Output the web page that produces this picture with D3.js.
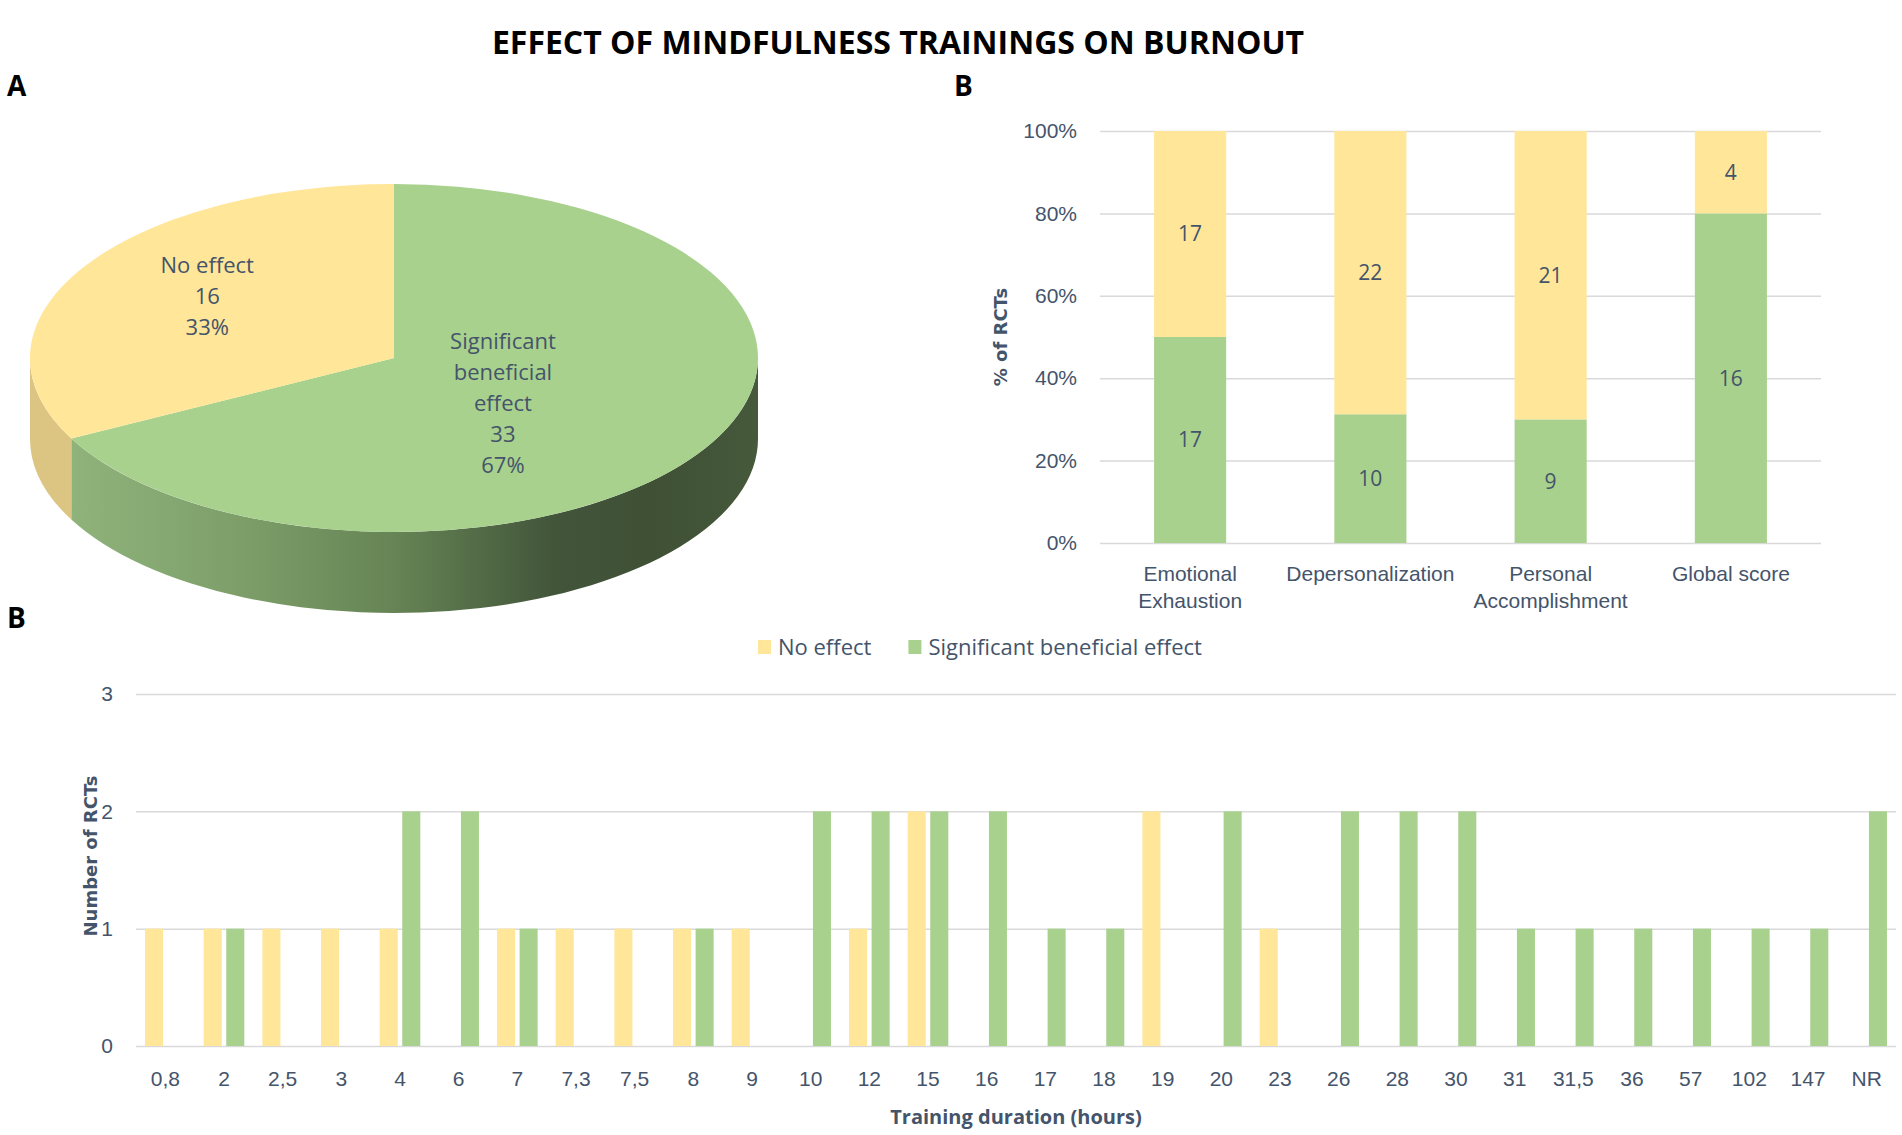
<!DOCTYPE html>
<html>
<head>
<meta charset="utf-8">
<script src="https://cdn.jsdelivr.net/npm/d3@7"></script>
<style>
  body { margin: 0; background: #fff; }
  svg { display: block; font-family: "Open Sans", sans-serif; }
  .tick text { fill: #44546a; font-size: 21px; }
  .axis-title { fill: #44546a; font-family: "DejaVu Sans", sans-serif; font-weight: bold; font-size: 18px; }
</style>
</head>
<body>
<svg id="chart"></svg>
<script>
// --- data ---
const pieLabels = ["No effect", "Significant beneficial effect"];
const pieCounts = [16, 33];

const dimLabels = [["Emotional", "Exhaustion"], ["Depersonalization"], ["Personal", "Accomplishment"], ["Global score"]];
const dimNoEffect = [17, 22, 21, 4];
const dimSignificant = [17, 10, 9, 16];

const durations = ["0,8", "2", "2,5", "3", "4", "6", "7", "7,3", "7,5", "8", "9", "10", "12", "15", "16",
  "17", "18", "19", "20", "23", "26", "28", "30", "31", "31,5", "36", "57", "102", "147", "NR"];
const durNoEffect    = [1, 1, 1, 1, 1, 0, 1, 1, 1, 1, 1, 0, 1, 2, 0, 0, 0, 2, 0, 1, 0, 0, 0, 0, 0, 0, 0, 0, 0, 0];
const durSignificant = [0, 1, 0, 0, 2, 2, 1, 0, 0, 1, 0, 2, 2, 2, 2, 1, 1, 0, 2, 0, 2, 2, 2, 1, 1, 1, 1, 1, 1, 2];

const yellow = "#ffe699", green = "#a9d18e";
const textColor = "#44546a";

const width = 1902, height = 1135;
const svg = d3.select("#chart").attr("width", width).attr("height", height);

// --- title and panel letters ---
svg.append("text")
  .attr("x", 898).attr("y", 54)
  .attr("text-anchor", "middle")
  .style("font-weight", "bold").style("font-size", "32px").attr("fill", "#000")
  .text("EFFECT OF MINDFULNESS TRAININGS ON BURNOUT");

[["A", 7, 96], ["B", 954, 96], ["B", 7, 628]].forEach(([t, x, y]) => {
  svg.append("text").attr("x", x).attr("y", y)
    .style("font-weight", "bold").style("font-size", "28px").attr("fill", "#000")
    .text(t);
});

// --- panel A: 3D pie ---
const pie3d = { cx: 394, cy: 358, rx: 364, ry: 174, depth: 81 };
const pt = (a, dy) => [pie3d.cx + pie3d.rx * Math.sin(a), pie3d.cy - pie3d.ry * Math.cos(a) + (dy || 0)];

const pieData = pieLabels.map((l, i) => ({ label: l, count: pieCounts[i], color: i === 0 ? yellow : green }));
const total = d3.sum(pieCounts);
// green slice starts at 12 o'clock and goes clockwise, yellow closes the circle
const arcs = d3.pie().sort(null).value(d => d.count)(pieData.slice().reverse());

const defs = svg.append("defs");
const grad = defs.append("linearGradient").attr("id", "greenSide")
  .attr("gradientUnits", "userSpaceOnUse")
  .attr("x1", pie3d.cx - pie3d.rx).attr("x2", pie3d.cx + pie3d.rx)
  .attr("y1", 0).attr("y2", 0);
[[0, "#94b880"], [0.3, "#7c9d68"], [0.5, "#668455"], [0.72, "#42553a"], [0.85, "#3f5035"], [1, "#46593b"]]
  .forEach(([o, c]) => grad.append("stop").attr("offset", o).attr("stop-color", c));

const sideColor = d => d.data.color === green ? "url(#greenSide)" : "#dcc482";

const pieG = svg.append("g");
// side walls (only the front half, angles pi/2..3pi/2, is visible)
arcs.forEach(d => {
  const a0 = Math.max(d.startAngle, Math.PI / 2);
  const a1 = Math.min(d.endAngle, 3 * Math.PI / 2);
  if (a1 <= a0) return;
  const p0 = pt(a0), p1 = pt(a1), q1 = pt(a1, pie3d.depth), q0 = pt(a0, pie3d.depth);
  const path = `M${p0}A${pie3d.rx},${pie3d.ry} 0 0 1 ${p1}L${q1}A${pie3d.rx},${pie3d.ry} 0 0 0 ${q0}Z`;
  pieG.append("path").attr("d", path).attr("fill", sideColor(d));
});
// top faces
arcs.forEach(d => {
  const p0 = pt(d.startAngle), p1 = pt(d.endAngle);
  const large = d.endAngle - d.startAngle > Math.PI ? 1 : 0;
  pieG.append("path")
    .attr("d", `M${pie3d.cx},${pie3d.cy}L${p0}A${pie3d.rx},${pie3d.ry} 0 ${large} 1 ${p1}Z`)
    .attr("fill", d.data.color);
});

// slice labels
const labelRadius = { "No effect": 0.6, "Significant beneficial effect": 0.35 };
const labelShift = { "No effect": -8, "Significant beneficial effect": 14 };
const labelLines = { "No effect": ["No effect"], "Significant beneficial effect": ["Significant", "beneficial", "effect"] };
arcs.forEach(d => {
  const mid = (d.startAngle + d.endAngle) / 2;
  const k = labelRadius[d.data.label];
  const x = pie3d.cx + pie3d.rx * k * Math.sin(mid);
  const y = pie3d.cy - pie3d.ry * k * Math.cos(mid) + labelShift[d.data.label];
  const lines = labelLines[d.data.label].concat([d.data.count, Math.round(d.data.count / total * 100) + "%"]);
  const t = pieG.append("text").attr("text-anchor", "middle").attr("fill", textColor).style("font-size", "22px");
  lines.forEach((l, i) => {
    t.append("tspan").attr("x", x).attr("y", y + (i - (lines.length - 1) / 2) * 31).attr("dy", "0.35em").text(l);
  });
});

// --- panel B (top): 100% stacked bars ---
const topBox = { left: 1100, right: 1821, top: 131, bottom: 543 };
const xDim = d3.scaleBand().domain(d3.range(dimLabels.length))
  .range([topBox.left, topBox.right]).paddingInner(0.6).paddingOuter(0.3);
const yPct = d3.scaleLinear().domain([0, 1]).range([topBox.bottom, topBox.top]);

const gyPct = svg.append("g").attr("transform", `translate(${topBox.left},0)`)
  .call(d3.axisLeft(yPct).tickValues([0, 0.2, 0.4, 0.6, 0.8, 1]).tickFormat(d3.format(".0%"))
    .tickSize(-(topBox.right - topBox.left)).tickPadding(23));
gyPct.select(".domain").remove();
gyPct.selectAll(".tick line").attr("stroke", "#d9d9d9").attr("stroke-width", 1.5);

const gxDim = svg.append("g").attr("transform", `translate(0,${topBox.bottom})`)
  .call(d3.axisBottom(xDim).tickSize(0).tickFormat(""));
gxDim.select(".domain").remove();
gxDim.selectAll(".tick text").each(function(i) {
  const t = d3.select(this);
  dimLabels[i].forEach((l, j) => t.append("tspan").attr("x", 0).attr("y", 31 + j * 27).attr("dy", "0.35em").text(l));
});

const dimRows = dimLabels.map((l, i) => {
  const n = dimNoEffect[i] + dimSignificant[i];
  return { i, sig: dimSignificant[i], no: dimNoEffect[i], sigShare: dimSignificant[i] / n };
});
const dimBars = svg.append("g");
dimRows.forEach(r => {
  const segs = [
    { v0: 0, v1: r.sigShare, color: green, n: r.sig },
    { v0: r.sigShare, v1: 1, color: yellow, n: r.no }
  ];
  segs.forEach(s => {
    dimBars.append("rect")
      .attr("x", xDim(r.i)).attr("width", xDim.bandwidth())
      .attr("y", yPct(s.v1)).attr("height", yPct(s.v0) - yPct(s.v1))
      .attr("fill", s.color);
    dimBars.append("text")
      .attr("x", xDim(r.i) + xDim.bandwidth() / 2).attr("y", yPct((s.v0 + s.v1) / 2))
      .attr("dy", "0.35em").attr("text-anchor", "middle")
      .attr("fill", textColor).style("font-size", "21px")
      .text(s.n);
  });
});

svg.append("text").attr("class", "axis-title")
  .attr("transform", `translate(1001,${(topBox.top + topBox.bottom) / 2}) rotate(-90)`)
  .attr("text-anchor", "middle").attr("dy", "0.35em")
  .text("% of RCTs");

// --- panel B (bottom): clustered bars by duration ---
const botBox = { left: 136, right: 1896, top: 694, bottom: 1046 };
const series = [
  { key: "No effect", values: durNoEffect, color: yellow },
  { key: "Significant beneficial effect", values: durSignificant, color: green }
];
const x0 = d3.scaleBand().domain(durations).range([botBox.left, botBox.right]).paddingInner(0.308).paddingOuter(0.154);
const x1 = d3.scaleBand().domain(series.map(s => s.key)).range([0, x0.bandwidth()]).paddingInner(0.2);
const yCount = d3.scaleLinear().domain([0, 3]).range([botBox.bottom, botBox.top]);

const gyCount = svg.append("g").attr("transform", `translate(${botBox.left},0)`)
  .call(d3.axisLeft(yCount).tickValues([0, 1, 2, 3]).tickFormat(d3.format("d"))
    .tickSize(-(botBox.right - botBox.left)).tickPadding(23));
gyCount.select(".domain").remove();
gyCount.selectAll(".tick line").attr("stroke", "#d9d9d9").attr("stroke-width", 1.5);

const gxDur = svg.append("g").attr("transform", `translate(0,${botBox.bottom})`)
  .call(d3.axisBottom(x0).tickSize(0).tickPadding(0));
gxDur.select(".domain").remove();
gxDur.selectAll(".tick text").attr("y", 33).attr("dy", "0.35em");

const durBars = svg.append("g");
series.forEach(s => {
  durBars.selectAll(null)
    .data(durations.map((d, i) => ({ d, v: s.values[i] })).filter(e => e.v > 0))
    .enter().append("rect")
    .attr("x", e => x0(e.d) + x1(s.key))
    .attr("width", x1.bandwidth())
    .attr("y", e => yCount(e.v))
    .attr("height", e => yCount(0) - yCount(e.v))
    .attr("fill", s.color);
});

svg.append("text").attr("class", "axis-title")
  .attr("transform", "translate(91,856) rotate(-90)")
  .attr("text-anchor", "middle").attr("dy", "0.35em")
  .text("Number of RCTs");

svg.append("text")
  .attr("x", 1016).attr("y", 1117).attr("dy", "0.35em")
  .attr("text-anchor", "middle").attr("fill", textColor)
  .style("font-weight", "bold").style("font-size", "20px")
  .text("Training duration (hours)");

// legend
const legend = svg.append("g").attr("transform", "translate(758,647)");
let lx = 0;
series.forEach(s => {
  const g = legend.append("g").attr("transform", `translate(${lx},0)`);
  g.append("rect").attr("x", 0).attr("y", -7).attr("width", 13).attr("height", 14).attr("fill", s.color);
  const t = g.append("text").attr("x", 20).attr("dy", "0.35em")
    .attr("fill", textColor).style("font-size", "22px").text(s.key);
  lx += 20 + t.node().getComputedTextLength() + 37;
});
</script>
</body>
</html>
